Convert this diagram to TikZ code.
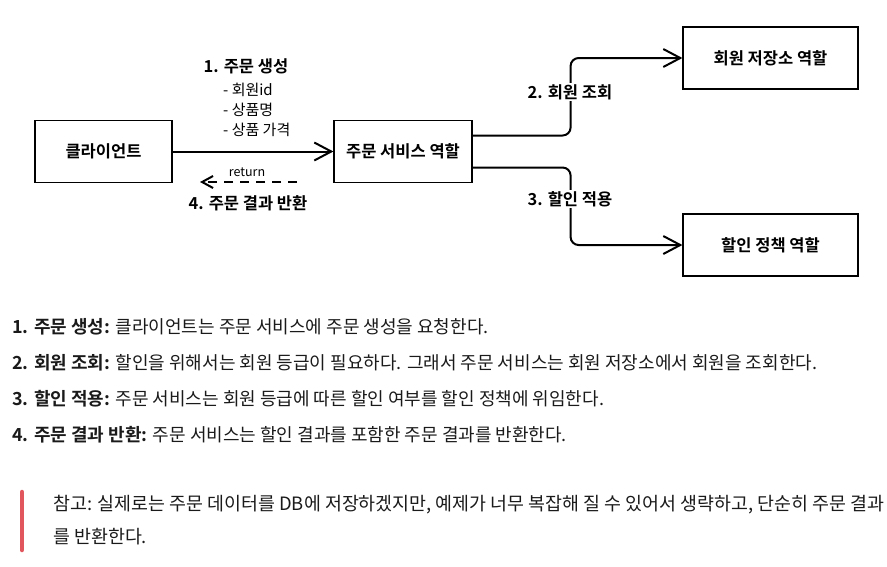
\documentclass[tikz,border=0pt]{standalone}
\usepackage{fontspec}
\setmainfont{Noto Sans CJK KR}[BoldFont={Noto Sans CJK KR Bold}]
\usetikzlibrary{arrows.meta}
\definecolor{notered}{HTML}{E0565C}
\definecolor{txt}{HTML}{1A1A1A}
\tikzset{
  box/.style={draw=black, line width=1.2pt, minimum width=#1, minimum height=62pt, inner sep=0pt, font=\fontsize{16.5}{19}\selectfont\bfseries},
  conn/.style={line width=2pt, -{Straight Barb[length=17pt,width=18pt,line width=2pt]}},
  retconn/.style={line width=2pt, dash pattern=on 9pt off 7pt, -{Straight Barb[length=11pt,width=12pt,line width=2pt]}},
  lbl/.style={font=\fontsize{16.5}{19}\selectfont\bfseries, inner sep=0pt},
  sub/.style={font=\fontsize{15}{17}\selectfont, inner sep=0pt, anchor=west},
  body/.style={font=\fontsize{18}{21}\selectfont, inner sep=0pt, anchor=west, text=txt},
  notebody/.style={font=\fontsize{18.4}{21}\selectfont, inner sep=0pt, anchor=west, text=txt},
}
\begin{document}
\begin{tikzpicture}[x=1pt,y=-1pt]
\useasboundingbox (0,0) rectangle (887,566);
% boxes
\node[box=137pt] (client) at (103.5,151.5) {클라이언트};
\node[box=138pt] (svc) at (403,151.5) {주문 서비스 역할};
\node[box=175pt] (repo) at (770.5,58) {회원 저장소 역할};
\node[box=175pt] (disc) at (770.5,245) {할인 정책 역할};
% arrow 1
\draw[conn] (client.east) -- (svc.west);
\node[lbl] (l1) at (246,66) {1. 주문 생성};
\node[sub] (s1) at (223,90) {- 회원id};
\node[sub] (s2) at (223,110) {- 상품명};
\node[sub] (s3) at (223,130) {- 상품 가격};
% arrow 2
\draw[conn, rounded corners=8pt] ([yshift=16pt]svc.east) -- ++(98,0) |- (repo.west);
\node[lbl, fill=white, inner sep=1pt] (l2) at (570,92) {2. 회원 조회};
% arrow 3
\draw[conn, rounded corners=8pt] ([yshift=-16pt]svc.east) -- ++(98,0) |- (disc.west);
\node[lbl, fill=white, inner sep=1pt] (l3) at (570,199) {3. 할인 적용};
% return
\coordinate (r1) at (297,182);
\coordinate (r2) at (200,182);
\draw[retconn] (r1) -- (r2);
\node[font=\fontsize{12.5}{14}\selectfont, inner sep=0pt] (rt) at (247,172) {return};
\node[lbl] (l4) at (248,203) {4. 주문 결과 반환};
% explanation
\node[body] (t1) at (12,327) {\textbf{1. 주문 생성:} 클라이언트는 주문 서비스에 주문 생성을 요청한다.};
\node[body] (t2) at (12,363) {\textbf{2. 회원 조회:} 할인을 위해서는 회원 등급이 필요하다. 그래서 주문 서비스는 회원 저장소에서 회원을 조회한다.};
\node[body] (t3) at (12,399) {\textbf{3. 할인 적용:} 주문 서비스는 회원 등급에 따른 할인 여부를 할인 정책에 위임한다.};
\node[body] (t4) at (12,435) {\textbf{4. 주문 결과 반환:} 주문 서비스는 할인 결과를 포함한 주문 결과를 반환한다.};
% note
\draw[notered, line width=4.5pt, line cap=round] (22,492) -- (22,550);
\node[notebody] (n1) at (53,505) {참고: 실제로는 주문 데이터를 DB에 저장하겠지만, 예제가 너무 복잡해 질 수 있어서 생략하고, 단순히 주문 결과};
\node[notebody] (n2) at (53,537) {를 반환한다.};
\end{tikzpicture}
\end{document}
